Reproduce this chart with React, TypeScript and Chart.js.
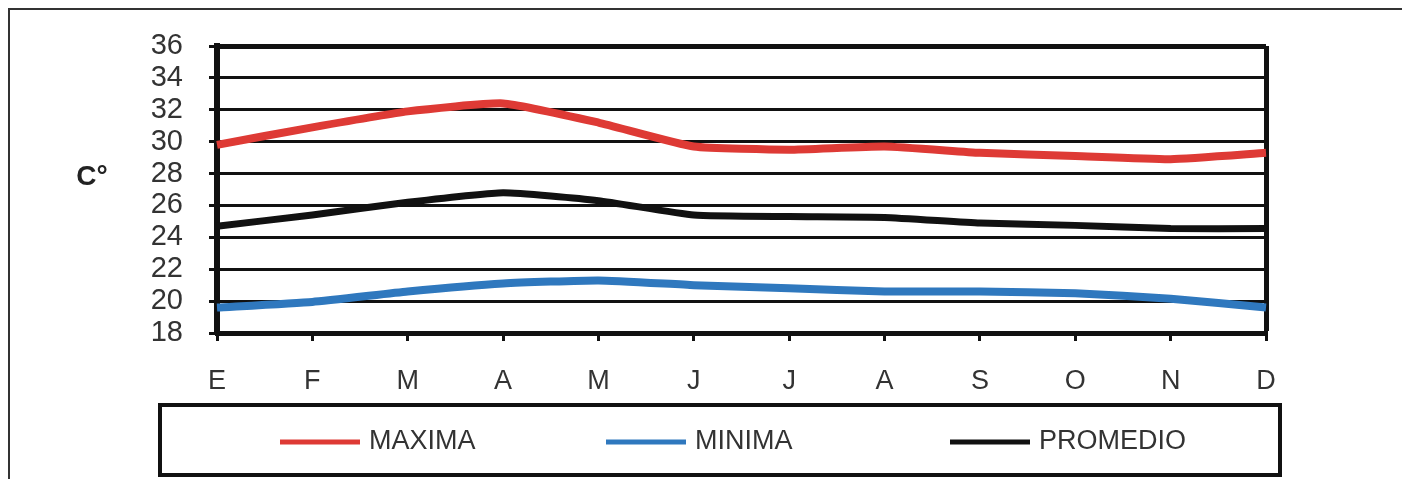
import React, { useEffect, useRef } from "react";
import Chart from "chart.js/auto";

// Monthly temperatures (°C)
const months = ["E", "F", "M", "A", "M", "J", "J", "A", "S", "O", "N", "D"];
const maxima = [29.8, 30.9, 31.9, 32.4, 31.2, 29.7, 29.5, 29.7, 29.3, 29.1, 28.9, 29.3];
const minima = [19.6, 19.95, 20.6, 21.1, 21.3, 21.0, 20.8, 20.6, 20.6, 20.5, 20.15, 19.6];
const promedio = [24.7, 25.4, 26.2, 26.8, 26.3, 25.4, 25.3, 25.25, 24.9, 24.75, 24.55, 24.55];
const seriesLabels = ["MAXIMA", "MINIMA", "PROMEDIO"];
const yTitle = "C°";
const yMin = 18;
const yMax = 36;
const yStep = 2;

const FONT = '"Liberation Sans", Arial, Helvetica, sans-serif';

// Page frame, horizontal unit label and the boxed legend underneath the plot
const decorPlugin = {
  id: "decor",
  afterDraw(chart: any) {
    const { ctx } = chart;
    ctx.save();
    ctx.strokeStyle = "#333";
    ctx.lineWidth = 2;
    ctx.beginPath();
    ctx.moveTo(9, 479);
    ctx.lineTo(9, 9);
    ctx.lineTo(1402, 9);
    ctx.stroke();

    ctx.fillStyle = "#222";
    ctx.font = `bold 28px ${FONT}`;
    ctx.textAlign = "center";
    ctx.textBaseline = "middle";
    ctx.fillText(yTitle, 92, 177);

    ctx.strokeStyle = "#111";
    ctx.lineWidth = 4;
    ctx.strokeRect(160, 405, 1120, 70);

    const itemX = [280, 606, 950];
    const cy = 442;
    ctx.font = `27px ${FONT}`;
    ctx.textAlign = "left";
    chart.data.datasets.forEach((ds: any, i: number) => {
      ctx.strokeStyle = ds.borderColor;
      ctx.lineWidth = 5;
      ctx.beginPath();
      ctx.moveTo(itemX[i], cy);
      ctx.lineTo(itemX[i] + 80, cy);
      ctx.stroke();
      ctx.fillStyle = "#333";
      ctx.fillText(ds.label, itemX[i] + 89, cy);
    });
    ctx.restore();
  },
};

export default function App() {
  const canvasRef = useRef<HTMLCanvasElement | null>(null);

  useEffect(() => {
    const canvas = canvasRef.current;
    if (!canvas) return;
    const chart = new Chart(canvas, {
      type: "line",
      data: {
        labels: months,
        datasets: [
          {
            label: seriesLabels[0],
            data: maxima,
            borderColor: "#DE3A35",
            borderWidth: 8,
            pointRadius: 0,
            tension: 0.15,
            fill: false,
          },
          {
            label: seriesLabels[1],
            data: minima,
            borderColor: "#2F78BE",
            borderWidth: 8,
            pointRadius: 0,
            tension: 0.15,
            fill: false,
          },
          {
            label: seriesLabels[2],
            data: promedio,
            borderColor: "#111111",
            borderWidth: 7,
            pointRadius: 0,
            tension: 0.15,
            fill: false,
          },
        ],
      },
      options: {
        responsive: false,
        animation: false,
        devicePixelRatio: 1,
        layout: { padding: { top: 46, right: 136, left: 0, bottom: 0 } },
        plugins: {
          legend: { display: false },
          tooltip: { enabled: false },
          title: { display: false },
        },
        scales: {
          x: {
            type: "category",
            grid: {
              drawOnChartArea: true,
              color: (c: any) => (c.index === months.length - 1 ? "#111" : "rgba(0,0,0,0)"),
              lineWidth: (c: any) => (c.index === months.length - 1 ? 5 : 3),
              tickColor: "#111",
              tickWidth: 3,
              tickLength: 8,
            },
            border: { color: "#111", width: 5 },
            ticks: {
              color: "#333",
              font: { family: FONT, size: 27 },
              padding: 24,
              maxRotation: 0,
              autoSkip: false,
            },
            afterFit: (s: any) => {
              s.height = 146;
            },
          },
          y: {
            min: yMin,
            max: yMax,
            grid: {
              color: "#111",
              lineWidth: (c: any) => (c.tick && c.tick.value === yMax ? 5 : 3),
              tickColor: "#111",
              tickWidth: 3,
              tickLength: 8,
            },
            border: { color: "#111", width: 6 },
            ticks: {
              stepSize: yStep,
              autoSkip: false,
              color: "#333",
              font: { family: FONT, size: 29 },
              padding: 26,
            },
            afterFit: (s: any) => {
              s.width = 217;
            },
          },
        },
      },
      plugins: [decorPlugin],
    });
    return () => chart.destroy();
  }, []);

  return (
    <div
      style={{
        position: "fixed",
        left: 0,
        top: 0,
        width: 1402,
        height: 479,
        background: "#fff",
      }}
    >
      <canvas ref={canvasRef} width={1402} height={479} style={{ display: "block" }} />
    </div>
  );
}
